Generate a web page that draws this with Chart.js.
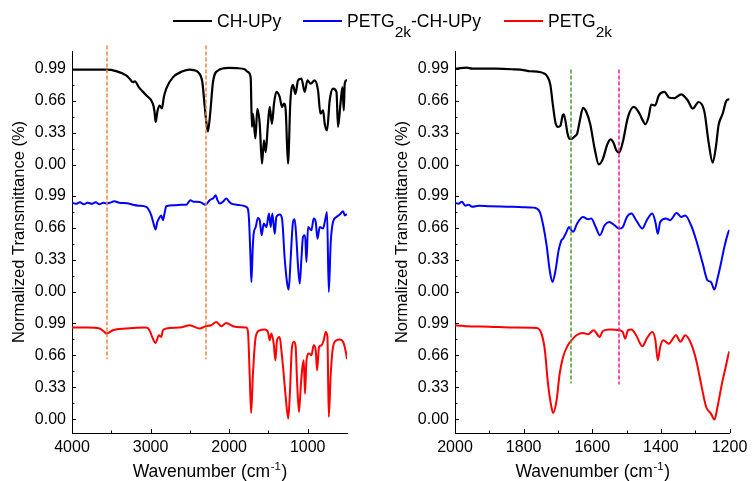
<!DOCTYPE html>
<html>
<head>
<meta charset="utf-8">
<script src="https://cdn.jsdelivr.net/npm/chart.js@4.4.1/dist/chart.umd.min.js"></script>
<style>
  html, body { margin: 0; padding: 0; background: #fff; }
  #wrap { position: relative; width: 753px; height: 481px; font-family: "Liberation Sans", Arial, sans-serif; }
  #left { position: absolute; left: 0; top: 0; }
  #right { position: absolute; left: 376px; top: 0; }
  .lg { position: absolute; top: 10.5px; height: 20px; line-height: 20px; font-size: 17.5px; color: #000; white-space: nowrap; }
  .lg i { position: absolute; left: 0; top: 9px; width: 39px; height: 2px; }
  .lg span { margin-left: 44px; }
  .lg sub { font-size: 15.5px; vertical-align: -10px; line-height: 0; }
</style>
</head>
<body>
<div id="wrap">
  <canvas id="left" width="376" height="481"></canvas>
  <canvas id="right" width="377" height="481"></canvas>
  <div class="lg" style="left:173px"><i style="background:#000"></i><span>CH-UPy</span></div>
  <div class="lg" style="left:303px"><i style="background:#0000ff"></i><span>PETG<sub>2k</sub>-CH-UPy</span></div>
  <div class="lg" style="left:504px"><i style="background:#ff0000"></i><span>PETG<sub>2k</sub></span></div>
</div>
<script>
// ---- tick labels ----
const yTicks = [0, 0.33, 0.66, 0.99];
const leftXTicks = [4000, 3000, 2000, 1000];
const rightXTicks = [2000, 1800, 1600, 1400, 1200];

// ---- left panel (4000-500 cm-1) ----
// CH-UPy
const wnL1 = [4000, 3800, 3560, 3440, 3310, 3260, 3225, 3200, 3150, 3055, 2971, 2950, 2936, 2910, 2885, 2856, 2830, 2800, 2716, 2600, 2503, 2450, 2397, 2341, 2312, 2285, 2270, 2240, 2206, 2143, 2000, 1900, 1803, 1760, 1726, 1710, 1697, 1666, 1641, 1611, 1582, 1557, 1535, 1506, 1484, 1455, 1429, 1399, 1357, 1327, 1302, 1280, 1251, 1220, 1187, 1157, 1123, 1080, 1038, 1004, 962, 911, 869, 838, 805, 783, 754, 720, 678, 634, 614, 583, 558, 541, 529, 507, 500];
const tL1 = [0.98, 0.98, 0.98, 0.965, 0.92, 0.88, 0.85, 0.86, 0.80, 0.715, 0.63, 0.55, 0.44, 0.56, 0.61, 0.58, 0.70, 0.785, 0.90, 0.96, 0.98, 0.975, 0.955, 0.85, 0.61, 0.40, 0.343, 0.54, 0.85, 0.97, 0.997, 0.995, 0.983, 0.955, 0.90, 0.39, 0.525, 0.27, 0.575, 0.42, 0.01, 0.25, 0.13, 0.42, 0.595, 0.42, 0.63, 0.75, 0.70, 0.595, 0.63, 0.56, 0.01, 0.664, 0.82, 0.73, 0.87, 0.887, 0.75, 0.87, 0.835, 0.87, 0.767, 0.525, 0.56, 0.42, 0.354, 0.664, 0.785, 0.75, 0.39, 0.63, 0.80, 0.56, 0.835, 0.87, 0.86];
// PETG2k-CH-UPy
const wnL2 = [4000, 3950, 3900, 3850, 3800, 3750, 3700, 3650, 3600, 3564, 3520, 3459, 3400, 3300, 3225, 3150, 3055, 2991, 2960, 2936, 2915, 2894, 2864, 2843, 2820, 2800, 2700, 2600, 2545, 2494, 2450, 2376, 2299, 2248, 2200, 2172, 2150, 2121, 2080, 2036, 2000, 1972, 1900, 1800, 1781, 1760, 1748, 1730, 1717, 1700, 1688, 1662, 1633, 1611, 1586, 1560, 1526, 1493, 1471, 1450, 1420, 1399, 1357, 1327, 1293, 1264, 1242, 1217, 1187, 1166, 1144, 1124, 1102, 1080, 1060, 1034, 1016, 996, 953, 924, 898, 876, 847, 805, 774, 754, 732, 707, 678, 634, 592, 550, 529, 507, 500];
const tL2 = [0.92, 0.91, 0.925, 0.905, 0.92, 0.91, 0.925, 0.905, 0.92, 0.912, 0.92, 0.936, 0.92, 0.915, 0.90, 0.89, 0.877, 0.79, 0.70, 0.644, 0.72, 0.757, 0.79, 0.74, 0.82, 0.884, 0.895, 0.90, 0.90, 0.946, 0.93, 0.929, 0.90, 0.946, 0.97, 0.998, 0.95, 0.912, 0.93, 0.964, 0.93, 0.912, 0.90, 0.885, 0.877, 0.85, 0.757, 0.40, 0.103, 0.45, 0.60, 0.67, 0.764, 0.74, 0.585, 0.706, 0.67, 0.809, 0.67, 0.809, 0.60, 0.774, 0.80, 0.757, 0.345, 0.103, 0.025, 0.345, 0.722, 0.75, 0.55, 0.276, 0.087, 0.345, 0.568, 0.585, 0.31, 0.67, 0.637, 0.757, 0.722, 0.55, 0.67, 0.654, 0.757, 0.826, 0.0, 0.516, 0.722, 0.774, 0.80, 0.833, 0.79, 0.80, 0.80];
// PETG2k
const wnL3 = [4000, 3800, 3650, 3586, 3560, 3530, 3480, 3310, 3055, 3013, 2971, 2936, 2910, 2894, 2864, 2843, 2800, 2600, 2503, 2376, 2299, 2230, 2163, 2099, 2036, 1952, 1850, 1781, 1760, 1739, 1720, 1697, 1662, 1611, 1548, 1506, 1484, 1462, 1433, 1411, 1391, 1357, 1335, 1306, 1280, 1248, 1229, 1200, 1174, 1153, 1136, 1111, 1089, 1067, 1051, 1034, 1016, 983, 953, 924, 898, 881, 856, 825, 796, 771, 749, 732, 707, 678, 634, 592, 550, 507, 500];
const tL3 = [0.946, 0.946, 0.936, 0.90, 0.884, 0.895, 0.918, 0.936, 0.946, 0.918, 0.833, 0.787, 0.84, 0.867, 0.85, 0.918, 0.936, 0.95, 0.97, 0.936, 0.96, 0.97, 1.004, 0.96, 0.994, 0.96, 0.95, 0.946, 0.90, 0.47, 0.065, 0.47, 0.85, 0.918, 0.926, 0.90, 0.815, 0.884, 0.78, 0.609, 0.815, 0.85, 0.712, 0.47, 0.23, 0.007, 0.23, 0.746, 0.80, 0.746, 0.40, 0.075, 0.333, 0.54, 0.609, 0.265, 0.609, 0.678, 0.66, 0.764, 0.712, 0.506, 0.746, 0.764, 0.815, 0.90, 0.85, 0.024, 0.47, 0.746, 0.815, 0.822, 0.80, 0.66, 0.62];

// ---- right panel (2000-1200 cm-1) ----
const wnR1 = [2000, 1995, 1985, 1966, 1950, 1927, 1880, 1830, 1800, 1782, 1760, 1753, 1740, 1733, 1722, 1714, 1707, 1700, 1693, 1686, 1683, 1678, 1672, 1665, 1658, 1650, 1644, 1637, 1627, 1617, 1606, 1593, 1581, 1569, 1557, 1547, 1538, 1530, 1522, 1511, 1496, 1479, 1462, 1453, 1445, 1436, 1428, 1417, 1406, 1390, 1375, 1360, 1341, 1322, 1307, 1290, 1273, 1261, 1249, 1239, 1232, 1220, 1210, 1203, 1200];
const tR1 = [0.99, 0.99, 0.995, 1.0, 0.99, 0.99, 0.99, 0.983, 0.975, 0.963, 0.96, 0.955, 0.94, 0.92, 0.82, 0.595, 0.43, 0.39, 0.40, 0.51, 0.52, 0.45, 0.32, 0.265, 0.27, 0.295, 0.32, 0.44, 0.585, 0.54, 0.42, 0.165, 0.003, 0.06, 0.20, 0.26, 0.227, 0.148, 0.124, 0.233, 0.49, 0.595, 0.525, 0.457, 0.416, 0.49, 0.62, 0.61, 0.715, 0.75, 0.69, 0.687, 0.725, 0.664, 0.578, 0.646, 0.543, 0.233, 0.02, 0.20, 0.405, 0.525, 0.653, 0.674, 0.67];
const wnR2 = [2000, 1990, 1980, 1970, 1960, 1950, 1930, 1900, 1850, 1800, 1770, 1753, 1743, 1733, 1724, 1716, 1707, 1698, 1690, 1685, 1675, 1668, 1661, 1656, 1644, 1627, 1612, 1603, 1590, 1578, 1564, 1551, 1535, 1522, 1511, 1499, 1486, 1472, 1454, 1441, 1425, 1416, 1409, 1402, 1385, 1373, 1354, 1341, 1329, 1312, 1297, 1278, 1264, 1254, 1244, 1235, 1225, 1215, 1203, 1200];
const tR2 = [0.92, 0.91, 0.93, 0.89, 0.90, 0.88, 0.89, 0.885, 0.88, 0.875, 0.87, 0.826, 0.688, 0.48, 0.224, 0.103, 0.224, 0.43, 0.533, 0.55, 0.62, 0.67, 0.637, 0.62, 0.706, 0.774, 0.75, 0.757, 0.67, 0.585, 0.688, 0.722, 0.688, 0.654, 0.67, 0.774, 0.809, 0.74, 0.654, 0.74, 0.809, 0.722, 0.60, 0.722, 0.757, 0.74, 0.815, 0.774, 0.79, 0.688, 0.533, 0.293, 0.12, 0.103, 0.025, 0.138, 0.293, 0.464, 0.62, 0.64];
const wnR3 = [2000, 1980, 1966, 1900, 1830, 1762, 1748, 1738, 1729, 1719, 1714, 1704, 1695, 1685, 1671, 1656, 1646, 1627, 1612, 1596, 1578, 1569, 1549, 1520, 1511, 1504, 1496, 1486, 1472, 1454, 1441, 1425, 1416, 1409, 1402, 1393, 1377, 1356, 1343, 1329, 1312, 1297, 1283, 1268, 1254, 1244, 1235, 1222, 1210, 1203, 1200];
const tR3 = [0.97, 0.965, 0.96, 0.955, 0.946, 0.942, 0.884, 0.712, 0.368, 0.127, 0.065, 0.196, 0.47, 0.643, 0.764, 0.833, 0.867, 0.89, 0.877, 0.918, 0.85, 0.911, 0.926, 0.918, 0.90, 0.833, 0.918, 0.926, 0.867, 0.753, 0.833, 0.90, 0.815, 0.609, 0.746, 0.815, 0.78, 0.867, 0.80, 0.867, 0.78, 0.609, 0.368, 0.127, 0.059, -0.003, 0.127, 0.368, 0.557, 0.67, 0.70];

// ---- dashed reference lines (wavenumber) ----
const leftMarkWn = [3560, 2300];
const rightMarkWn = [1663, 1523];

const FONT = '"Liberation Sans", Arial, sans-serif';
const seriesColors = ['#000000', '#0000ff', '#ff0000'];
const seriesWidths = [2.2, 2, 2];
const yIds = ['yTop', 'yMid', 'yBot'];

Chart.defaults.font.family = FONT;
Chart.defaults.color = '#000';

// dashed markers, inward ticks and axis titles
const decor = {
  id: 'decor',
  afterDatasetsDraw(chart, args, opts) {
    const ctx = chart.ctx;
    opts.markers.forEach(m => {
      const x = chart.scales.x.getPixelForValue(m.wn);
      const y0 = chart.scales.yTop.getPixelForValue(m.top);
      const y1 = chart.scales.yBot.getPixelForValue(m.bottom);
      ctx.save();
      ctx.strokeStyle = m.color;
      ctx.lineWidth = 1.5;
      ctx.setLineDash([4, 2]);
      ctx.beginPath();
      ctx.moveTo(Math.round(x), y0);
      ctx.lineTo(Math.round(x), y1);
      ctx.stroke();
      ctx.restore();
    });
  },
  afterDraw(chart, args, opts) {
    const ctx = chart.ctx;
    const area = chart.chartArea;
    ctx.save();
    ctx.strokeStyle = '#000';
    ctx.lineWidth = 1;
    ctx.beginPath();
    yIds.forEach(id => {
      const s = chart.scales[id];
      yTicks.forEach((v, i) => {
        const y = Math.round(s.getPixelForValue(v)) + 0.5;
        ctx.moveTo(area.left, y); ctx.lineTo(area.left + 4, y);
        if (i < yTicks.length - 1) {
          const ym = Math.round(s.getPixelForValue((v + yTicks[i + 1]) / 2)) + 0.5;
          ctx.moveTo(area.left, ym); ctx.lineTo(area.left + 2.5, ym);
        }
      });
    });
    const xs = chart.scales.x;
    opts.xTicks.forEach((v, i) => {
      const x = Math.round(xs.getPixelForValue(v)) + 0.5;
      ctx.moveTo(x, area.bottom); ctx.lineTo(x, area.bottom - 4);
      if (i < opts.xTicks.length - 1) {
        const xm = Math.round(xs.getPixelForValue((v + opts.xTicks[i + 1]) / 2)) + 0.5;
        ctx.moveTo(xm, area.bottom); ctx.lineTo(xm, area.bottom - 2.5);
      }
    });
    ctx.stroke();

    // y title
    ctx.fillStyle = '#000';
    ctx.font = '16.5px ' + FONT;
    ctx.textAlign = 'center';
    ctx.textBaseline = 'middle';
    ctx.save();
    ctx.translate(area.left - 53, (area.top + area.bottom) / 2 - 10);
    ctx.rotate(-Math.PI / 2);
    ctx.fillText('Normalized Transmittance (%)', 0, 0);
    ctx.restore();

    // x title with superscript
    const main = 'Wavenumber (cm', sup = '-1', end = ')';
    ctx.textAlign = 'left';
    ctx.textBaseline = 'alphabetic';
    ctx.font = '17.5px ' + FONT;
    const w1 = ctx.measureText(main).width, w3 = ctx.measureText(end).width;
    ctx.font = '11.5px ' + FONT;
    const w2 = ctx.measureText(sup).width;
    let x = (area.left + area.right) / 2 - (w1 + w2 + w3) / 2;
    const base = 477;
    ctx.font = '17.5px ' + FONT;
    ctx.fillText(main, x, base);
    ctx.font = '11.5px ' + FONT;
    ctx.fillText(sup, x + w1 + 0.5, base - 7);
    ctx.font = '17.5px ' + FONT;
    ctx.fillText(end, x + w1 + w2 + 1, base);
    ctx.restore();
  }
};

function yAxis(width) {
  return {
    type: 'linear',
    position: 'left',
    stack: 'spectra',
    stackWeight: 1,
    min: -0.141,
    max: 1.172,
    grid: { display: false, drawTicks: false },
    border: { display: true, color: '#000', width: 1 },
    ticks: { font: { size: 16 }, color: '#000', padding: 6, autoSkip: false, callback: v => v.toFixed(2) },
    afterBuildTicks: ax => { ax.ticks = yTicks.map(v => ({ value: v })); },
    afterFit: ax => { ax.width = width; }
  };
}

function makePanel(id, p) {
  const datasets = p.series.map((s, i) => ({
    data: s[0].map((w, k) => ({ x: w, y: s[1][k] })),
    yAxisID: yIds[i],
    borderColor: seriesColors[i],
    borderWidth: seriesWidths[i],
    pointRadius: 0,
    cubicInterpolationMode: 'monotone',
    fill: false
  }));
  const scales = {
    x: {
      type: 'linear',
      reverse: true,
      min: p.xMin,
      max: p.xMax,
      grid: { display: false, drawTicks: false },
      border: { display: true, color: '#000', width: 1 },
      ticks: { font: { size: 16 }, color: '#000', padding: 5, autoSkip: false, maxRotation: 0, callback: v => String(v) },
      afterBuildTicks: ax => { ax.ticks = p.xTicks.map(v => ({ value: v })); },
      afterFit: ax => { ax.height = 48; }
    }
  };
  // stacked axes are laid out bottom-up, so add the bottom one first
  yIds.slice().reverse().forEach(k => { scales[k] = yAxis(p.yWidth); });
  return new Chart(document.getElementById(id), {
    type: 'line',
    data: { datasets },
    options: {
      responsive: false,
      animation: false,
      devicePixelRatio: 1,
      layout: { padding: { left: 0, right: p.padRight, top: 51, bottom: 0 } },
      plugins: {
        legend: { display: false },
        tooltip: { enabled: false },
        decor: { markers: p.markers, xTicks: p.xTicks }
      },
      scales
    },
    plugins: [decor]
  });
}

makePanel('left', {
  xMin: 500, xMax: 4000, xTicks: leftXTicks, yWidth: 72, padRight: 29,
  series: [[wnL1, tL1], [wnL2, tL2], [wnL3, tL3]],
  markers: leftMarkWn.map(w => ({ wn: w, top: 1.23, bottom: 0.62, color: '#ee8240' }))
});

makePanel('right', {
  xMin: 1200, xMax: 2000, xTicks: rightXTicks, yWidth: 79, padRight: 23.5,
  series: [[wnR1, tR1], [wnR2, tR2], [wnR3, tR3]],
  markers: [
    { wn: rightMarkWn[0], top: 0.98, bottom: 0.37, color: '#4e9a2a' },
    { wn: rightMarkWn[1], top: 0.98, bottom: 0.36, color: '#ff1493' }
  ]
});
</script>
</body>
</html>
